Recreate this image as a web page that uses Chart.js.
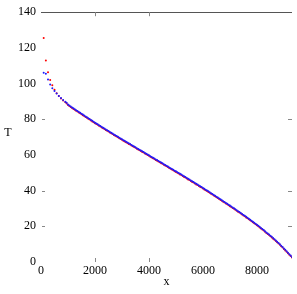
<!DOCTYPE html>
<html>
<head>
<meta charset="utf-8">
<script src="https://cdn.jsdelivr.net/npm/chart.js@4/dist/chart.umd.min.js"></script>
<style>
  body { margin: 0; background: #fff; }
  #wrap { width: 297px; height: 294px; }
</style>
</head>
<body>
<div id="wrap"><canvas id="grafico"></canvas></div>
<script>
// positions along x
const xValues = [100, 180, 260, 340, 420, 500, 580, 660, 740, 820,
  900, 950, 1000, 1050, 1100, 1150, 1200, 1250, 1300, 1350,
  1400, 1450, 1500, 1550, 1600, 1650, 1700, 1750, 1800, 1850,
  1900, 1950, 2000, 2050, 2100, 2150, 2200, 2250, 2300, 2350,
  2400, 2450, 2500, 2550, 2600, 2650, 2700, 2750, 2800, 2850,
  2900, 2950, 3000, 3050, 3100, 3150, 3200, 3250, 3300, 3350,
  3400, 3450, 3500, 3550, 3600, 3650, 3700, 3750, 3800, 3850,
  3900, 3950, 4000, 4050, 4100, 4150, 4200, 4250, 4300, 4350,
  4400, 4450, 4500, 4550, 4600, 4650, 4700, 4750, 4800, 4850,
  4900, 4950, 5000, 5050, 5100, 5150, 5200, 5250, 5300, 5350,
  5400, 5450, 5500, 5550, 5600, 5650, 5700, 5750, 5800, 5850,
  5900, 5950, 6000, 6050, 6100, 6150, 6200, 6250, 6300, 6350,
  6400, 6450, 6500, 6550, 6600, 6650, 6700, 6750, 6800, 6850,
  6900, 6950, 7000, 7050, 7100, 7150, 7200, 7250, 7300, 7350,
  7400, 7450, 7500, 7550, 7600, 7650, 7700, 7750, 7800, 7850,
  7900, 7950, 8000, 8050, 8100, 8150, 8200, 8250, 8300, 8350,
  8400, 8450, 8500, 8550, 8600, 8650, 8700, 8750, 8800, 8850,
  8900, 8950, 9000, 9050, 9100, 9150, 9200, 9250, 9300];

// blue series (T)
const tBlue = [106, 105.5, 102.3, 99.5, 97.4, 95.8, 94.4, 93.1, 91.9, 90.8,
  89.8, 89.2, 88.3, 87.7, 87.2, 86.6, 86.1, 85.6, 85.1, 84.6,
  84.1, 83.6, 83.1, 82.6, 82.1, 81.6, 81.1, 80.6, 80.1, 79.6,
  79.1, 78.6, 78.1, 77.6, 77.2, 76.7, 76.2, 75.7, 75.3, 74.8,
  74.3, 73.9, 73.4, 72.9, 72.5, 72.0, 71.5, 71.1, 70.6, 70.2,
  69.7, 69.2, 68.8, 68.3, 67.9, 67.4, 67.0, 66.5, 66.1, 65.6,
  65.2, 64.7, 64.3, 63.8, 63.4, 62.9, 62.5, 62.0, 61.6, 61.1,
  60.7, 60.2, 59.8, 59.3, 58.9, 58.4, 58.0, 57.5, 57.1, 56.6,
  56.2, 55.7, 55.3, 54.8, 54.4, 53.9, 53.5, 53.0, 52.6, 52.1,
  51.7, 51.2, 50.8, 50.3, 49.9, 49.4, 49.0, 48.5, 48.0, 47.6,
  47.1, 46.6, 46.2, 45.7, 45.2, 44.8, 44.3, 43.8, 43.4, 42.9,
  42.4, 42.0, 41.5, 41.0, 40.5, 40.1, 39.6, 39.1, 38.6, 38.1,
  37.6, 37.1, 36.6, 36.1, 35.6, 35.1, 34.6, 34.1, 33.6, 33.1,
  32.6, 32.1, 31.6, 31.1, 30.6, 30.1, 29.6, 29.0, 28.5, 28.0,
  27.5, 26.9, 26.4, 25.9, 25.3, 24.8, 24.2, 23.7, 23.1, 22.6,
  22.0, 21.5, 20.9, 20.3, 19.7, 19.1, 18.5, 17.9, 17.3, 16.6,
  16.0, 15.4, 14.7, 14.1, 13.4, 12.7, 12.0, 11.3, 10.6, 9.9,
  9.1, 8.4, 7.6, 6.8, 6.0, 5.2, 4.4, 3.6, 2.8];

// red series (T)
const tRed = [125.5, 113, 106.3, 102, 99, 96.6, 94.6, 93.0, 91.7, 90.5,
  89.5, 88.9, 88.0, 87.4, 86.9, 86.3, 85.8, 85.3, 84.8, 84.3,
  83.8, 83.3, 82.8, 82.3, 81.8, 81.3, 80.8, 80.3, 79.8, 79.3,
  78.8, 78.3, 77.8, 77.3, 76.9, 76.4, 75.9, 75.4, 75.0, 74.5,
  74.0, 73.6, 73.1, 72.6, 72.2, 71.7, 71.2, 70.8, 70.3, 69.9,
  69.4, 68.9, 68.5, 68.0, 67.6, 67.1, 66.7, 66.2, 65.8, 65.3,
  64.9, 64.4, 64.0, 63.5, 63.1, 62.6, 62.2, 61.7, 61.3, 60.8,
  60.4, 59.9, 59.5, 59.0, 58.6, 58.1, 57.7, 57.2, 56.8, 56.3,
  55.9, 55.4, 55.0, 54.5, 54.1, 53.6, 53.2, 52.7, 52.3, 51.8,
  51.4, 50.9, 50.5, 50.0, 49.6, 49.1, 48.7, 48.2, 47.7, 47.3,
  46.8, 46.3, 45.9, 45.4, 44.9, 44.5, 44.0, 43.5, 43.1, 42.6,
  42.1, 41.7, 41.2, 40.7, 40.2, 39.8, 39.3, 38.8, 38.3, 37.8,
  37.3, 36.8, 36.3, 35.8, 35.3, 34.8, 34.3, 33.8, 33.3, 32.8,
  32.3, 31.8, 31.3, 30.8, 30.3, 29.8, 29.3, 28.7, 28.2, 27.7,
  27.2, 26.6, 26.1, 25.6, 25.0, 24.5, 23.9, 23.4, 22.8, 22.3,
  21.7, 21.2, 20.6, 20.0, 19.4, 18.8, 18.2, 17.6, 17.0, 16.3,
  15.7, 15.1, 14.4, 13.8, 13.1, 12.4, 11.7, 11.0, 10.3, 9.6,
  8.8, 8.1, 7.3, 6.5, 5.7, 4.9, 4.1, 3.3, 2.5];

const xTicks = [0, 2000, 4000, 6000, 8000];
const yTicks = [0, 20, 40, 60, 80, 100, 120, 140];
// tick marks that show up in the picture
const xMarks = [2000, 4000];
const yMarks = [20, 40, 80];

function pares(xs, ys) {
    return xs.map(function (v, i) { return { x: v, y: ys[i] }; });
}

const fonte = { family: '"Liberation Serif", "Times New Roman", serif', size: 12 };

const moldura = {
    id: 'moldura',
    afterDraw(chart) {
        const ctx = chart.ctx;
        const a = chart.chartArea;
        const sx = chart.scales.x, sy = chart.scales.y;
        ctx.save();
        ctx.strokeStyle = '#555';
        ctx.lineWidth = 1;
        ctx.beginPath();
        ctx.moveTo(a.left, Math.round(a.top) + 0.5);
        ctx.lineTo(a.right, Math.round(a.top) + 0.5);
        ctx.stroke();
        ctx.strokeStyle = '#888';
        ctx.beginPath();
        xMarks.forEach(function (v) {
            const px = Math.round(sx.getPixelForValue(v)) + 0.5;
            ctx.moveTo(px, a.top); ctx.lineTo(px, a.top + 4);
            ctx.moveTo(px, a.bottom); ctx.lineTo(px, a.bottom - 4);
        });
        yMarks.forEach(function (v) {
            const py = Math.round(sy.getPixelForValue(v)) + 0.5;
            ctx.moveTo(a.left + 1, py); ctx.lineTo(a.left + 4, py);
            ctx.moveTo(a.right, py); ctx.lineTo(a.right - 4, py);
        });
        ctx.stroke();
        // y axis title, upright
        ctx.fillStyle = '#000';
        ctx.font = '12px ' + fonte.family;
        ctx.textAlign = 'center';
        ctx.textBaseline = 'middle';
        ctx.fillText('T', 8, (a.top + a.bottom) / 2 - 4);
        ctx.restore();
    }
};

new Chart(document.getElementById('grafico').getContext('2d'), {
    type: 'scatter',
    data: {
        datasets: [
            {
                label: 'azul',
                data: pares(xValues, tBlue),
                backgroundColor: '#1a1aff',
                borderWidth: 0,
                pointRadius: 1,
                pointHoverRadius: 1
            },
            {
                label: 'vermelho',
                data: pares(xValues, tRed),
                backgroundColor: '#ff0000',
                borderWidth: 0,
                pointRadius: 1,
                pointHoverRadius: 1
            }
        ]
    },
    options: {
        responsive: true,
        maintainAspectRatio: false,
        animation: false,
        events: [],
        layout: { padding: { top: 10, right: 5, left: 0, bottom: 0 } },
        plugins: {
            legend: { display: false },
            tooltip: { enabled: false }
        },
        scales: {
            x: {
                type: 'linear',
                min: 0,
                max: 9300,
                grid: { display: false, drawTicks: false },
                border: { display: false },
                afterBuildTicks: function (s) { s.ticks = xTicks.map(function (v) { return { value: v }; }); },
                afterFit: function (s) { s.height = 32; },
                ticks: {
                    color: '#000', font: fonte, padding: 2, maxRotation: 0,
                    callback: function (v) { return String(v); }
                },
                title: { display: true, text: 'x', color: '#000', font: fonte, padding: { top: 0, bottom: 5 } }
            },
            y: {
                min: 0,
                max: 140,
                grid: { display: false, drawTicks: false },
                border: { display: false },
                afterBuildTicks: function (s) { s.ticks = yTicks.map(function (v) { return { value: v }; }); },
                afterFit: function (s) { s.width = 41; },
                ticks: {
                    color: '#000', font: fonte, padding: 5,
                    callback: function (v) { return String(v); }
                }
            }
        }
    },
    plugins: [moldura]
});
</script>
</body>
</html>
